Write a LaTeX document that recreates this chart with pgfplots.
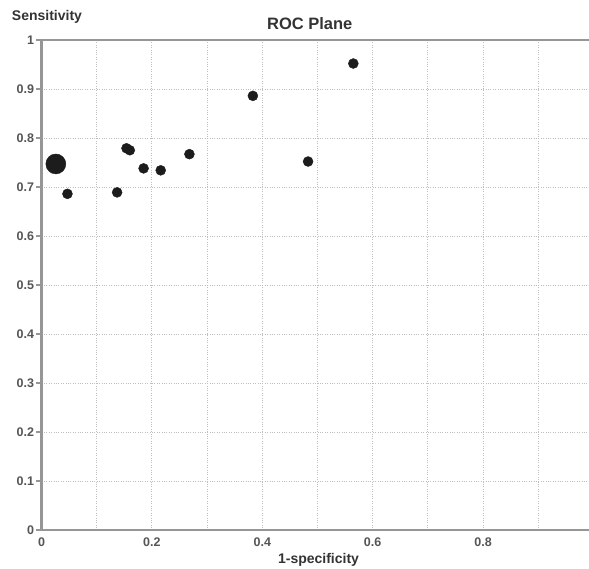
\documentclass[border=0pt]{standalone}
\usepackage{fontspec}
\setmainfont{Liberation Sans}
\usepackage{pgfplots}
\pgfplotsset{compat=1.18}
\definecolor{axisgray}{RGB}{150,150,150}
\definecolor{gridgray}{RGB}{190,190,190}
\definecolor{ticktext}{RGB}{85,85,85}
\definecolor{dotblack}{RGB}{28,28,28}

\begin{document}
\begin{tikzpicture}
\useasboundingbox (0,0) rectangle (589pt,569pt);
\begin{axis}[
    at={(41.5pt,39pt)}, anchor=south west,
    scale only axis,
    width=547.5pt, height=490pt,
    xmin=0, xmax=0.992,
    ymin=0, ymax=1,
    xtick={0,0.2,0.4,0.6,0.8},
    xticklabels={0,0.2,0.4,0.6,0.8},
    minor xtick={0.1,0.3,0.5,0.7,0.9},
    ytick={0,0.1,0.2,0.3,0.4,0.5,0.6,0.7,0.8,0.9,1},
    yticklabels={0,0.1,0.2,0.3,0.4,0.5,0.6,0.7,0.8,0.9,1},
    grid=both,
    major grid style={gridgray, dotted, line width=0.8pt},
    minor grid style={gridgray, dotted, line width=0.8pt},
    axis line style={draw=none},
    tick align=outside,
    major tick length=5pt,
    minor tick length=0pt,
    xtick style={draw=none},
    ytick style={axisgray, line width=1.5pt},
    tick label style={font=\fontsize{12.5}{14}\selectfont\bfseries, text=ticktext},
    yticklabel style={xshift=1pt},
    xticklabel style={yshift=1pt},
    title={ROC Plane},
    title style={font=\fontsize{16.5}{18}\selectfont\bfseries, text=black!80,
        at={(rel axis cs:0.49,1)}, anchor=center, yshift=10pt},
    xlabel={1-specificity},
    xlabel style={font=\fontsize{14}{16}\selectfont\bfseries, text=black!80,
        at={(rel axis cs:0.506,0)}, anchor=center, yshift=-30pt},
    ylabel={Sensitivity},
    ylabel style={rotate=-90, font=\fontsize{14}{16}\selectfont\bfseries, text=black!80,
        at={(rel axis cs:0,1)}, anchor=center, xshift=5.5pt, yshift=23pt},
    clip=false,
]
    \draw[axisgray, line width=2pt] (rel axis cs:1,1) -- (rel axis cs:0,1) -- (rel axis cs:0,0) -- (rel axis cs:1,0);
    \addplot[only marks, mark=*, mark size=5pt, mark options={draw=dotblack, fill=dotblack}] coordinates {
        (0.047,0.686) (0.137,0.689) (0.154,0.779) (0.160,0.775) (0.185,0.738)
        (0.216,0.734) (0.268,0.767) (0.383,0.886) (0.483,0.752) (0.565,0.952)
    };
    \addplot[only marks, mark=*, mark size=10pt, mark options={draw=dotblack, fill=dotblack}] coordinates {
        (0.026,0.747)
    };
\end{axis}
\end{tikzpicture}
\end{document}
